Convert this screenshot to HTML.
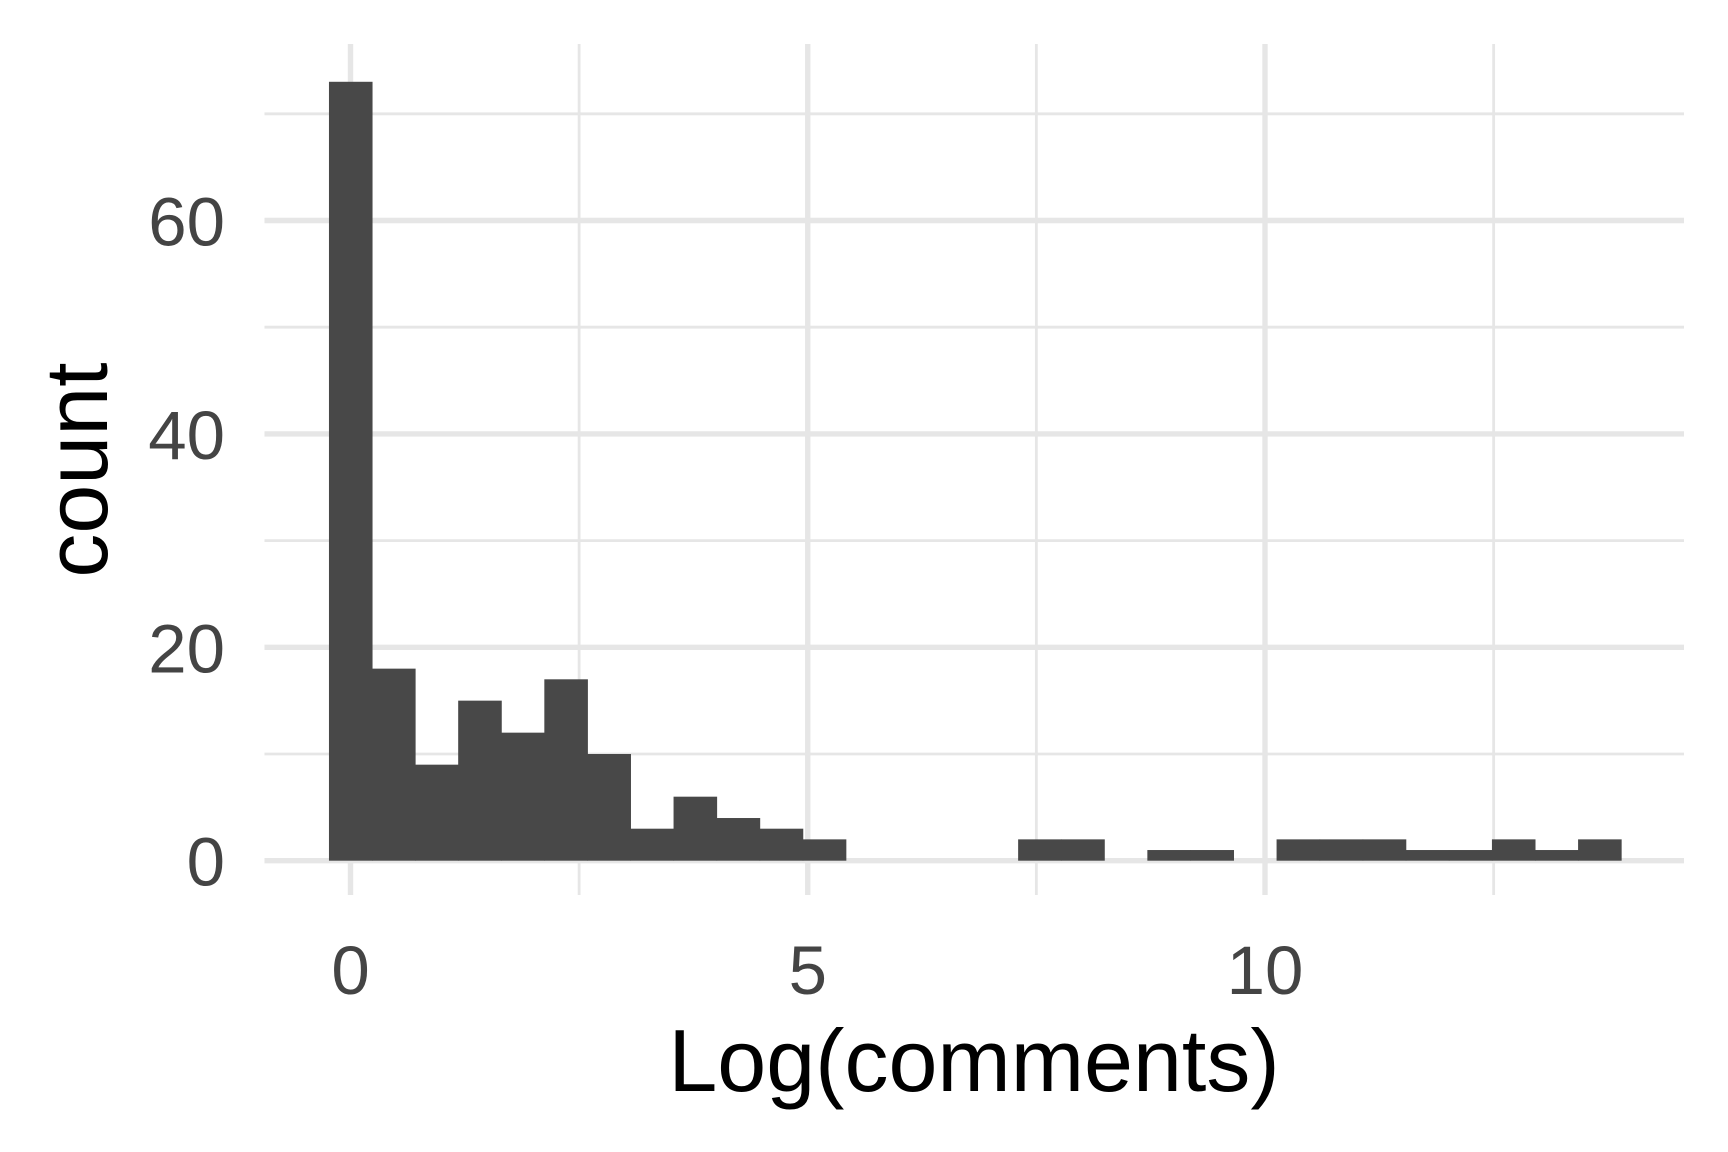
<!DOCTYPE html>
<html><head><meta charset="utf-8"><style>
html,body{margin:0;padding:0;background:#fff;}
svg{display:block;}
</style></head><body>
<svg id="chart" width="1728" height="1152" viewBox="0 0 1728 1152" xmlns="http://www.w3.org/2000/svg">
<rect width="1728" height="1152" fill="#fff"/>
<g id="grid"></g>
<g id="bars"></g>
<g id="ticks"></g>
<text x="974" y="1091" text-anchor="middle" font-family="Liberation Sans, sans-serif" font-size="88" fill="#000">Log(comments)</text>
<text transform="translate(107,470) rotate(-90)" text-anchor="middle" font-family="Liberation Sans, sans-serif" font-size="88" fill="#000">count</text>
</svg>
<script>
const binWidth = 0.471;
const counts = [73,18,9,15,12,17,10,3,6,4,3,2,0,0,0,0,2,2,0,1,1,0,2,2,2,1,1,2,1,2];
const xMajor = [0,5,10];
const xMinor = [2.5,7.5,12.5];
const yMajor = [0,20,40,60];
const yMinor = [10,30,50,70];
const xTickLabels = ["0","5","10"];
const yTickLabels = ["0","20","40","60"];

const NS="http://www.w3.org/2000/svg";
const panel={l:264.5,r:1684,t:44,b:895};
const sx=v=>350.5+v*91.45;
const sy=v=>860.7-v*10.67;
function mk(tag,attrs,parent){const e=document.createElementNS(NS,tag);for(const k in attrs)e.setAttribute(k,attrs[k]);parent.appendChild(e);return e;}
const grid=document.getElementById('grid'),bars=document.getElementById('bars'),ticks=document.getElementById('ticks');
yMinor.forEach(v=>{const l=mk('line',{x1:panel.l,x2:panel.r,y1:sy(v),y2:sy(v),stroke:'#e6e6e6','stroke-width':2.8},grid);

});
xMinor.forEach(v=>{const l=mk('line',{x1:sx(v),x2:sx(v),y1:panel.t,y2:panel.b,stroke:'#e6e6e6','stroke-width':2.8},grid);

});
yMajor.forEach(v=>{const l=mk('line',{x1:panel.l,x2:panel.r,y1:sy(v),y2:sy(v),stroke:'#e6e6e6','stroke-width':5.4},grid);

});
xMajor.forEach(v=>{const l=mk('line',{x1:sx(v),x2:sx(v),y1:panel.t,y2:panel.b,stroke:'#e6e6e6','stroke-width':5.4},grid);

});
counts.forEach((c,i)=>{if(c<=0)return;const c0=i*binWidth;const x0=sx(c0-binWidth/2),x1=sx(c0+binWidth/2);
const r=mk('rect',{x:x0,y:sy(c),width:x1-x0+0.5,height:sy(0)-sy(c),fill:'#484848'},bars);

});
xMajor.forEach((v,i)=>{const t=mk('text',{x:sx(v),y:994,'text-anchor':'middle','font-family':'Liberation Sans, sans-serif','font-size':69,fill:'#444444'},ticks);t.textContent=xTickLabels[i];

});
yMajor.forEach((v,i)=>{const t=mk('text',{x:225,y:sy(v)+25,'text-anchor':'end','font-family':'Liberation Sans, sans-serif','font-size':69,fill:'#444444'},ticks);t.textContent=yTickLabels[i];

});
</script>
</body></html>
